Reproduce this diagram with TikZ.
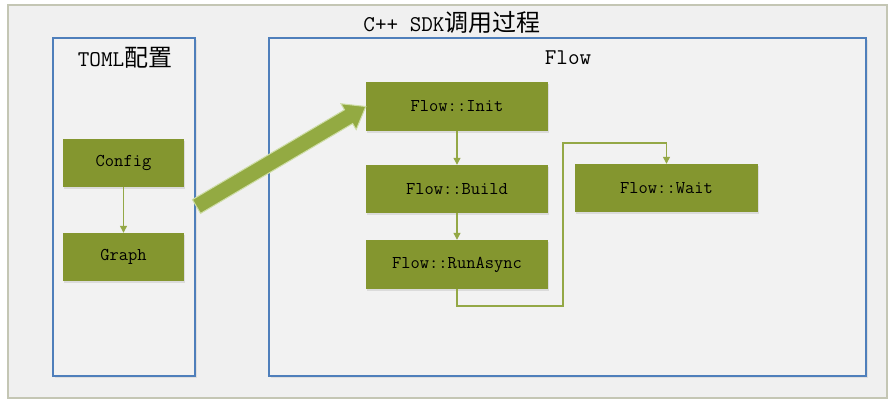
\documentclass[tikz,border=0pt]{standalone}
\usepackage{fontspec}
\newfontfamily\cjk{Noto Sans CJK SC}
\usetikzlibrary{arrows.meta,calc,shadows}
\definecolor{boxgreen}{HTML}{84962F}
\definecolor{arrowgreen}{HTML}{93AA42}
\definecolor{arrowedge}{HTML}{CEDDA6}
\definecolor{linegreen}{HTML}{94A846}
\definecolor{panelblue}{HTML}{4F7FBB}
\definecolor{outergray}{HTML}{C4C6B4}
\tikzset{
  outerframe/.style={draw=outergray, line width=1.3pt, fill=black!6, minimum width=879pt, minimum height=393pt, inner sep=0pt},
  panel/.style={draw=panelblue, line width=1.4pt, fill=black!5, inner sep=0pt,
    drop shadow={opacity=0.15, shadow xshift=2pt, shadow yshift=-2pt}},
  stepbox/.style={fill=boxgreen, text=black, inner sep=0pt, minimum height=48pt,
    font=\ttfamily\fontsize{18pt}{22pt}\selectfont,
    drop shadow={opacity=0.2, shadow xshift=1pt, shadow yshift=-1.5pt}},
  biglabel/.style={font=\ttfamily\fontsize{22.5pt}{27pt}\selectfont, inner sep=0pt},
  flowline/.style={draw=linegreen, line width=1.2pt, -{Triangle[length=7pt,width=7pt]}},
  bigarrow/.style={fill=arrowgreen, draw=arrowedge, line width=1pt, line join=miter}
}
\begin{document}
\begin{tikzpicture}[x=1pt,y=-1pt]
\useasboundingbox (0,0) rectangle (895,405);
\node[outerframe] (outer) at (447.5,201.5) {};
\node[biglabel] (title) at (452,22) {C++ SDK{\cjk\fontsize{24pt}{27pt}\selectfont 调用过程}};

\node[panel, minimum width=142pt, minimum height=338pt] (toml) at (124,207) {};
\node[panel, minimum width=597pt, minimum height=338pt] (flow) at (567.5,207) {};
\node[biglabel] (tomllabel) at (125,58) {TOML{\cjk\fontsize{24pt}{27pt}\selectfont 配置}};
\node[biglabel] (flowlabel) at (568,58) {Flow};

\node[stepbox, minimum width=121pt] (config) at (123.5,163) {Config};
\node[stepbox, minimum width=121pt] (graph) at (123.5,257) {Graph};
\node[stepbox, minimum width=182pt, minimum height=49pt] (init) at (457,106.5) {Flow::Init};
\node[stepbox, minimum width=182pt] (build) at (457,189) {Flow::Build};
\node[stepbox, minimum width=182pt, minimum height=49pt] (run) at (457,264.5) {Flow::RunAsync};
\node[stepbox, minimum width=183pt] (wait) at (666.5,188) {Flow::Wait};

\draw[flowline] (config) -- (graph);
\draw[flowline] (init) -- (build);
\draw[flowline] (build) -- (run);
\coordinate (c1) at (457,306);
\coordinate (c2) at (563,306);
\coordinate (c3) at (563,143);
\coordinate (c4) at (666.5,143);
\draw[flowline] (run.south) -- (c1) -- (c2) -- (c3) -- (c4) -- (wait.north);

\coordinate (tail) at (196.5,206.5);
\coordinate (tip) at (init.west);
\coordinate (hb) at ($(tip)!20pt!(tail)$);
\draw[bigarrow]
  ($(tail)!8pt!90:(tip)$) -- ($(hb)!8pt!-90:(tail)$) -- ($(hb)!15pt!-90:(tail)$)
  -- (tip) -- ($(hb)!15pt!90:(tail)$) -- ($(hb)!8pt!90:(tail)$)
  -- ($(tail)!8pt!-90:(tip)$) -- cycle;
\end{tikzpicture}
\end{document}
